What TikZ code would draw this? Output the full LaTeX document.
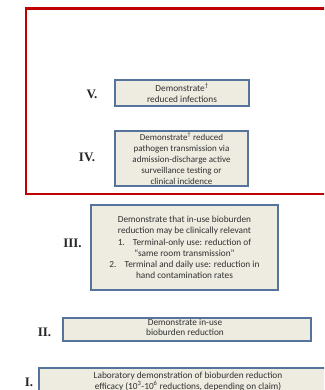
\documentclass[tikz,border=0pt]{standalone}
\usepackage{fontspec}
\setmainfont{Carlito}
\newfontfamily\numfont{Liberation Serif}
\definecolor{boxfill}{HTML}{EEECE1}
\definecolor{boxline}{HTML}{56739C}
\definecolor{redline}{HTML}{C00000}
\definecolor{txt}{HTML}{303030}
\begin{document}
\begin{tikzpicture}[x=1pt,y=-1pt,
  box/.style={draw=boxline, fill=boxfill, line width=1.3pt, inner sep=0pt, text=txt,
    align=center, font=\fontsize{9.3}{11.3}\selectfont},
  lbl/.style={text=txt, align=center, inner sep=0pt},
  lvl/.style={font=\numfont\bfseries\fontsize{13}{13}\selectfont, text=black!85, inner sep=0pt}]
\useasboundingbox (0,0) rectangle (324,390);
\clip (0,0) rectangle (324,390);
\draw[redline, line width=2.5pt] (26,8.5) rectangle (340,194);
% V
\node[box, minimum width=134pt, minimum height=26pt] (b5) at (182,93) {Demonstrate\textsuperscript{\dag}\\reduced infections};
\node[lvl] (l5) at (92,94) {V.};
% IV
\node[box, minimum width=133pt, minimum height=55pt, font=\fontsize{9}{10.9}\selectfont] (b4) at (181.5,158.5) {Demonstrate\textsuperscript{\dag} reduced\\pathogen transmission via\\admission-discharge active\\surveillance testing or\\clinical incidence};
\node[lvl] (l4) at (87,157) {IV.};
% III
\node[box, minimum width=187pt, minimum height=85pt] (b3) at (184.5,247.5) {Demonstrate that in-use bioburden\\reduction may be clinically relevant\\1.\hspace{8pt}Terminal-only use: reduction of\\``same room transmission''\\2.\hspace{8pt}Terminal and daily use: reduction in\\hand contamination rates};
\node[lvl] (l3) at (72.5,243) {III.};
% II
\node[box, minimum width=248pt, minimum height=23pt] (b2) at (187,329.5) {};
\node[lbl, font=\fontsize{9.3}{10.2}\selectfont] (t2) at (185,327) {Demonstrate in-use\\bioburden reduction};
\node[lvl] (l2) at (44.5,332) {II.};
% I
\node[box, minimum width=300pt, minimum height=36pt] (b1) at (189,386) {};
\node[lbl, font=\fontsize{9.3}{10.3}\selectfont] (t1) at (188,381.5) {Laboratory demonstration of bioburden reduction\\efficacy (10\textsuperscript{3}-10\textsuperscript{6} reductions, depending on claim)};
\node[lvl] (l1) at (29,382) {I.};
\end{tikzpicture}
\end{document}
